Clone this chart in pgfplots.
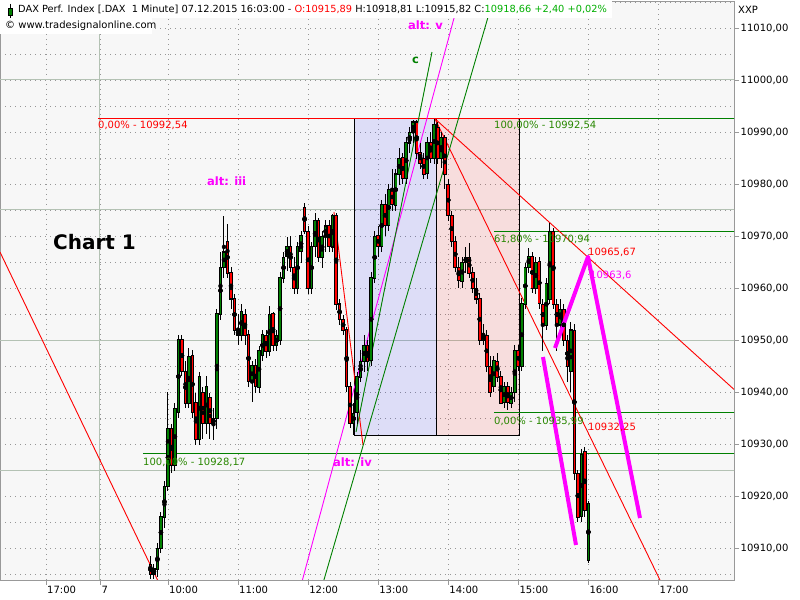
\documentclass[border=0pt]{standalone}
\usepackage{pgfplots}
\pgfplotsset{compat=1.18}
\usepackage{pgfplotstable}
\usepackage{fontspec}
\setmainfont{DejaVu Sans}
\definecolor{bgc}{RGB}{247,247,247}
\definecolor{gridc}{RGB}{150,150,150}
\definecolor{gsolid}{RGB}{180,194,180}
\definecolor{fibgreen}{RGB}{0,128,0}
\definecolor{labgreen}{RGB}{40,135,0}
\definecolor{cgreen}{RGB}{0,128,0}
\definecolor{cred}{RGB}{255,0,0}
\definecolor{mag}{RGB}{255,0,255}
\definecolor{titlegreen}{RGB}{0,175,0}
\pgfplotstableread{
t o h l c
45 10907 10908.5 10904 10905
48 10905 10907 10904 10906
51 10906 10911 10904.5 10910
54 10910 10917 10909 10916
57 10916 10923 10914 10922
60 10922 10940 10921 10933
63 10933 10934 10924.5 10926
66 10926 10938 10925 10937
69 10936 10951 10935 10950
72 10950 10951 10943 10944
75 10944 10946 10937 10938
78 10938 10948.5 10937 10947
81 10947 10948 10935 10936
84 10938 10940 10930 10931
87 10931 10944 10930 10943
90 10940 10941 10931 10934
93 10934 10943 10932 10941
96 10939 10940 10931 10934
99 10934 10937 10930.8 10935
102 10935 10956 10933 10955
105 10955 10967 10954 10964
108 10964 10974 10962 10967
111 10969 10972.5 10962 10963
114 10963 10964 10956 10958
117 10958 10959 10951 10952
120 10952 10955 10949 10951
123 10951 10957 10950 10955.5
126 10955 10956 10949 10951
129 10951 10952 10941 10942
132 10942 10946 10938 10945
135 10945 10946.5 10940 10941
138 10941 10949 10940 10948
141 10947 10952 10946 10951
144 10951 10952 10946.5 10948
147 10948 10956.5 10947 10955
150 10955 10955.5 10948 10949
153 10949 10952 10948 10951
156 10950 10963 10949 10962
159 10962 10967 10961 10966
162 10966 10970 10963.5 10968
165 10968 10970 10963 10964
168 10964 10966 10959 10960
171 10960 10969 10959 10968
174 10967 10971 10965 10970
177 10975.5 10976.5 10970.5 10971
180 10971 10972 10959 10960
183 10960 10969 10959 10968
186 10968 10974.4 10966 10973
189 10973 10973.5 10965 10966
192 10966 10971 10964 10970
195 10970 10973 10967 10972
198 10972 10973 10967 10968
201 10968 10974.4 10967 10974
204 10974 10974.5 10956 10957
207 10957 10958 10953 10954
210 10954 10955 10951 10952
213 10952 10952.5 10940 10941
216 10941 10942 10933 10934
219 10934 10938 10931.7 10936
222 10936 10944 10934 10943
225 10943 10948 10942 10946
228 10946 10951 10944 10949
231 10949 10950 10944 10946
234 10946 10963 10945 10962
237 10962 10971 10961 10970
240 10970 10972 10966 10968
243 10968 10977 10967 10976
246 10976 10978 10970 10972
249 10972 10980 10971 10979
252 10979 10983 10975 10976
255 10976 10983 10975 10982
258 10982 10987 10980 10985
261 10985 10986 10980 10981
264 10981 10989 10980 10988
267 10988 10991 10986 10990
270 10990 10992.3 10988 10992
273 10992 10992.5 10985 10986
276 10986 10988 10983 10984
279 10985 10986 10981 10982
282 10982 10989 10981 10988
285 10988 10990 10984 10985
288 10985 10992.54 10984 10991.5
291 10991 10992 10984 10985
294 10985 10990 10983 10989
297 10989 10989.5 10979 10982
300 10980 10981 10973 10974
303 10974 10975 10968 10969
306 10969 10970 10963 10964
309 10964 10966 10960 10961.5
312 10961.5 10966 10960 10965
315 10965 10968 10963 10966
318 10966 10968.8 10962 10963
321 10963 10964 10959 10960
324 10960 10962 10957 10958
327 10958 10959 10949 10950
330 10950 10953 10949 10951
333 10951 10952 10944 10945
336 10945 10947 10939 10940
339 10941 10947 10940 10946
342 10946 10947.5 10942 10943
345 10943 10944 10937.8 10938
348 10938 10942 10937 10941
351 10941 10942 10936.5 10938
354 10938 10941 10937 10940
357 10940 10949 10938 10948
360 10948 10949 10944 10945
363 10945 10958 10944 10957
366 10957 10965 10956 10964
369 10964 10967.7 10963 10966
372 10966 10967 10959 10960
375 10960 10966 10959 10965
378 10965 10966 10956 10957
381 10957 10958 10948 10953
384 10953 10962 10952 10961
387 10958 10972.5 10957 10971
390 10971 10971.5 10956 10957
393 10957 10958 10948 10953
396 10953 10958 10952 10956
399 10956 10957 10949 10950
402 10950 10951 10942 10945
405 10944 10953.5 10940 10952
408 10952 10953 10923 10924.5
411 10924.5 10925 10915 10916
414 10916 10929 10915 10928
417 10928.5 10929.5 10916 10917.3
420 10907.7 10919 10907.1 10918.66
}\candles
\begin{document}
\begin{tikzpicture}[x=1bp,y=1bp]
\fill[white] (0bp,0bp) rectangle (800bp,600bp);
\useasboundingbox (0bp,0bp) rectangle (800bp,600bp);
\begin{axis}[
  at={(0bp,20bp)}, anchor=south west,
  width=734bp, height=579bp, scale only axis,
  xmin=-83.8, xmax=544.7, ymin=10903.85, ymax=11015.19,
  scaled y ticks=false, scaled x ticks=false,
  axis background/.style={fill=bgc},
  axis line style={gray!80},
  xtick pos=bottom, ytick pos=right,
  tick align=outside,
  major tick length=5bp, minor tick length=0bp,
  xtick={-44.4,2.2,60,120,180,240,300,360,420,480},
  xticklabels={17:00,7,10:00,11:00,12:00,13:00,14:00,15:00,16:00,17:00},
  xticklabel style={anchor=north west, inner sep=1bp, xshift=0bp},
  ytick={10910,10920,10930,10940,10950,10960,10970,10980,10990,11000,11010},
  yticklabels={{10910,00},{10920,00},{10930,00},{10940,00},{10950,00},{10960,00},{10970,00},{10980,00},{10990,00},{11000,00},{11010,00}},
  minor ytick={10905,10915,...,11015},
  yticklabel style={anchor=west, inner sep=1.5bp},
  tick label style={font=\fontsize{10bp}{12bp}\selectfont, text=black},
  tick style={gray!80, line width=0.8bp},
  xmajorgrids, ymajorgrids, yminorgrids,
  major grid style={dash pattern=on 1bp off 4bp, gridc, line width=0.8bp},
  minor grid style={dash pattern=on 1bp off 4bp, gridc, line width=0.8bp},
]
% solid grid lines
\addplot[gsolid, line width=1bp] coordinates {(-100,11000) (600,11000)};
\addplot[gsolid, line width=1bp] coordinates {(-100,10975) (600,10975)};
\addplot[gsolid, line width=1bp] coordinates {(-100,10950) (600,10950)};
\addplot[gsolid, line width=1bp] coordinates {(-100,10925) (600,10925)};
\addplot[gsolid, line width=1bp] coordinates {(1.8,10900) (1.8,11020)};
% boxes
\addplot[draw=black, line width=1bp, fill=blue, fill opacity=0.1] coordinates {(220.16,10931.73) (289.78,10931.73) (289.78,10992.54) (220.16,10992.54)} -- cycle;
\addplot[draw=black, line width=1bp, fill=red, fill opacity=0.1] coordinates {(289.78,10931.73) (360.85,10931.73) (360.85,10992.54) (289.78,10992.54)} -- cycle;
% fib lines
\addplot[fibgreen, line width=1.2bp] coordinates {(38.62,10928.17) (560,10928.17)};
\addplot[fibgreen, line width=1.2bp] coordinates {(339.14,10992.54) (560,10992.54)};
\addplot[fibgreen, line width=1.2bp] coordinates {(339.14,10970.94) (560,10970.94)};
\addplot[fibgreen, line width=1.2bp] coordinates {(339.14,10935.99) (560,10935.99)};
\addplot[cred, line width=1bp] coordinates {(0.09,10992.54) (378.57,10992.54)};
% diagonal lines
\addplot[cred, line width=0.9bp] coordinates {(-83.83,10966.92) (53.18,10902.88)};
\addplot[cred, line width=0.9bp] coordinates {(288.65,10992.54) (544.7,10940.5)};
\addplot[cred, line width=0.9bp] coordinates {(288.65,10992.54) (483.4,10902.88)};
\addplot[cred, line width=0.9bp] coordinates {(202.17,10974.62) (227.0,10929.81)};
\addplot[mag, line width=0.9bp] coordinates {(173.99,10902.88) (310.3,11016.35)};
\addplot[fibgreen, line width=0.9bp] coordinates {(192.3,10902.88) (339.6,11016.35)};
\addplot[fibgreen, line width=0.9bp] coordinates {(221.02,10932.31) (286.10,11005.38)};
% candles: wicks
\addplot[only marks, mark=none, error bars/.cd, y dir=both, y explicit, error mark=none,
  error bar style={black, line width=1bp}]
  table[x=t, y expr={(\thisrow{h}+\thisrow{l})/2}, y error expr={(\thisrow{h}-\thisrow{l})/2}] {\candles};
% candles: body outline
\addplot[only marks, mark=none, error bars/.cd, y dir=both, y explicit, error mark=none,
  error bar style={black, line width=3.6bp}]
  table[x=t, y expr={(\thisrow{o}+\thisrow{c})/2}, y error expr={abs(\thisrow{c}-\thisrow{o})/2+0.12}] {\candles};
% candles: green fill
\addplot[only marks, mark=none, error bars/.cd, y dir=both, y explicit, error mark=none,
  error bar style={cgreen, line width=1.7bp}]
  table[x=t, y expr={(\thisrow{o}+\thisrow{c})/2}, y error expr={ifthenelse(\thisrow{c}>\thisrow{o}, max(abs(\thisrow{c}-\thisrow{o})/2-0.08,0), 0)}] {\candles};
% candles: red fill
\addplot[only marks, mark=none, error bars/.cd, y dir=both, y explicit, error mark=none,
  error bar style={cred, line width=1.7bp}]
  table[x=t, y expr={(\thisrow{o}+\thisrow{c})/2}, y error expr={ifthenelse(\thisrow{c}>\thisrow{o}, 0, max(abs(\thisrow{c}-\thisrow{o})/2-0.08,0))}] {\candles};
% projection lines
\addplot[mag, line width=4bp] coordinates {(381.14,10946.73) (409.40,10910.58)};
\addplot[mag, line width=4bp, line join=round] coordinates {(391.42,10948.46) (419.68,10966.0) (464.21,10915.77)};
\end{axis}
% title area
\fill[white] (0,582) rectangle (612,600);
\fill[white] (0,566) rectangle (152,582);
\draw[black, line width=0.8bp] (10.5,596) -- (10.5,582);
\filldraw[fill=cgreen, draw=black, line width=0.8bp] (8.5,592) rectangle (12.5,585);
\begin{scope}[every node/.style={inner sep=0pt, anchor=west, font=\fontsize{10bp}{12bp}\selectfont}]
\node[font=\fontsize{9.8bp}{12bp}\selectfont] at (18,591) {DAX Perf. Index [.DAX\ \ 1 Minute] 07.12.2015 16:03:00 - \textcolor{cred}{O:10915,89} H:10918,81 L:10915,82 C:\textcolor{titlegreen}{10918,66 +2,40 +0,02\%}};
\node at (5,574) {© www.tradesignalonline.com};
\node at (738,590) {XXP};
\node[text=cred] at (98,475) {0,00\% - 10992,54};
\node[text=labgreen] at (494,475) {100,00\% - 10992,54};
\node[text=labgreen] at (494,361) {61,80\% - 10970,94};
\node[text=cred] at (588,348) {10965,67};
\node[text=mag] at (590,325) {10963,6};
\node[text=labgreen] at (494,179) {0,00\% - 10935,99};
\node[text=cred] at (588,173) {10932,25};
\node[text=labgreen] at (143,138) {100,00\% - 10928,17};
\end{scope}
\begin{scope}[every node/.style={inner sep=0pt, anchor=west, font=\bfseries\fontsize{11.5bp}{13bp}\selectfont}]
\node[text=mag] at (207,419) {alt: iii};
\node[text=mag] at (408,575) {alt: v};
\node[text=mag] at (333,138) {alt: iv};
\node[text=fibgreen] at (412,540) {c};
\end{scope}
\node[anchor=west, inner sep=0pt, font=\bfseries\fontsize{20bp}{24bp}\selectfont] at (53,358) {Chart 1};
\end{tikzpicture}
\end{document}
